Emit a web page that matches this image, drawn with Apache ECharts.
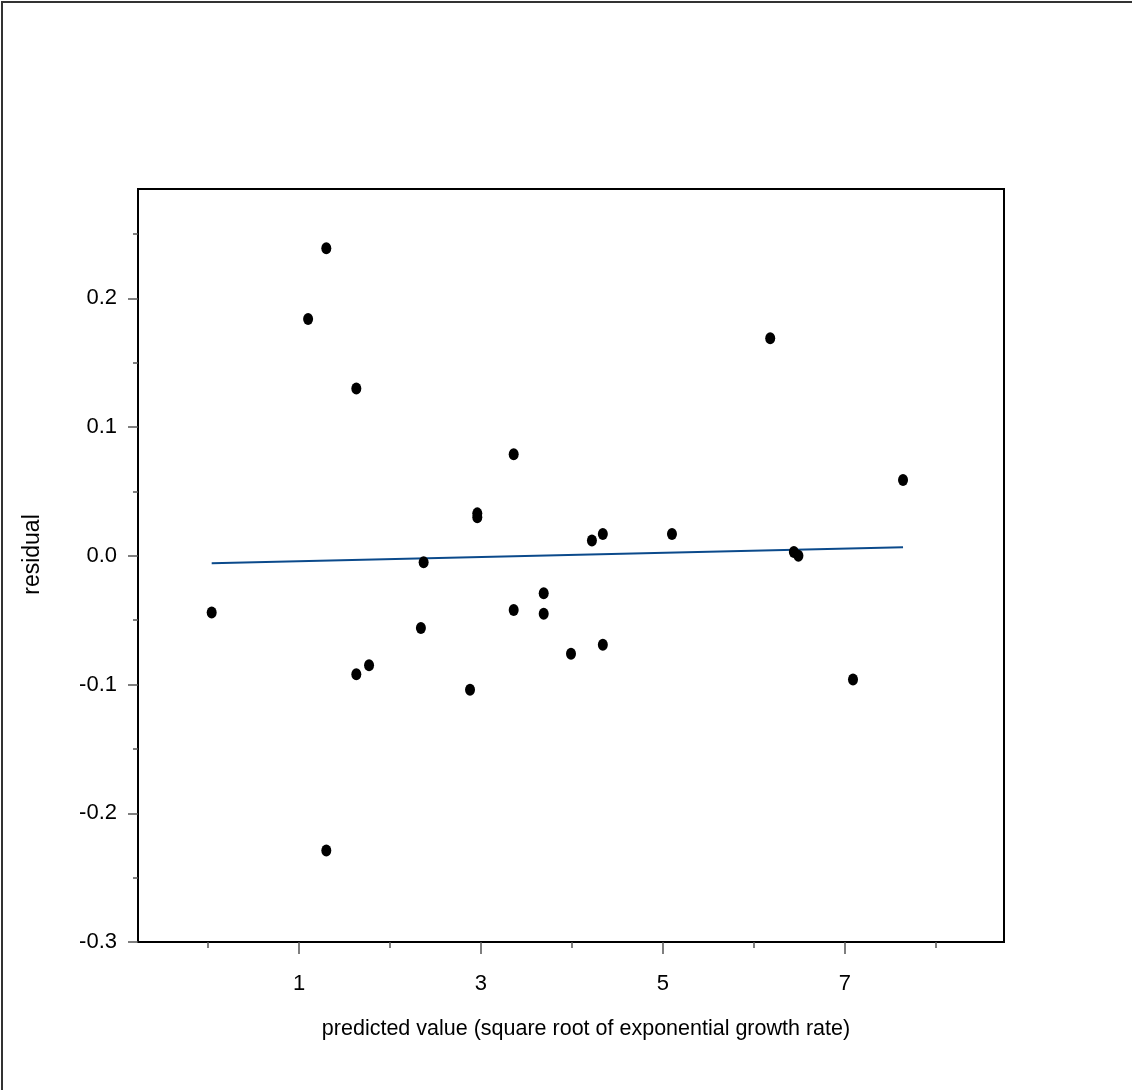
<!DOCTYPE html>
<html>
<head>
<meta charset="utf-8">
<script src="https://cdn.jsdelivr.net/npm/echarts@6/dist/echarts.min.js"></script>
<style>
html,body{margin:0;padding:0;background:#fff;}
#chart{width:1132px;height:1090px;}
</style>
</head>
<body>
<div id="chart"></div>
<script>
// Data
const predicted = [0.04, 1.10, 1.30, 1.30, 1.63, 1.63, 1.77, 2.34, 2.37, 2.88, 2.96, 2.96, 3.36, 3.36, 3.69, 3.69, 3.99, 4.22, 4.34, 4.34, 5.10, 6.18, 6.44, 6.49, 7.09, 7.64];
const residual  = [-0.044, 0.184, 0.239, -0.229, 0.130, -0.092, -0.085, -0.056, -0.005, -0.104, 0.033, 0.030, 0.079, -0.042, -0.029, -0.045, -0.076, 0.012, 0.017, -0.069, 0.017, 0.169, 0.003, 0.000, -0.096, 0.059];
const fitX = [0.04, 7.64];
const fitY = [-0.0058, 0.0066];
const xMajorTicks = [1, 3, 5, 7];
const xMinorTicks = [0, 2, 4, 6, 8];
const yMajorTicks = [-0.3, -0.2, -0.1, 0.0, 0.1, 0.2];
const yMinorTicks = [-0.25, -0.15, -0.05, 0.05, 0.15, 0.25];
const xTitle = 'predicted value (square root of exponential growth rate)';
const yTitle = 'residual';

const points = predicted.map((x, i) => [x, residual[i]]);
const fitLine = fitX.map((x, i) => [x, fitY[i]]);

const font = 'Liberation Sans, Arial, sans-serif';
const chart = echarts.init(document.getElementById('chart'), null, {renderer: 'canvas'});
const xMin = -0.77, xMax = 8.75, yMin = -0.3, yMax = 0.285;

chart.setOption({
  animation: false,
  backgroundColor: '#fff',
  grid: {left: 138, top: 189, right: 128, bottom: 148, show: true, borderColor: '#000', borderWidth: 2, backgroundColor: 'transparent'},
  xAxis: [
    {
      type: 'value', min: xMin, max: xMax, position: 'bottom',
      name: xTitle, nameLocation: 'middle', nameGap: 76,
      nameTextStyle: {fontFamily: font, fontSize: 21.5, color: '#000', letterSpacing: -0.3, padding: [0, 0, 0, 30]},
      axisLine: {show: true, onZero: false, lineStyle: {color: '#000', width: 2}},
      axisTick: {show: true, customValues: xMajorTicks, length: 12, lineStyle: {color: '#555', width: 1.5}},
      axisLabel: {show: true, customValues: xMajorTicks, margin: 31, fontFamily: font, fontSize: 22, color: '#000'},
      splitLine: {show: false}
    },
    {
      type: 'value', min: xMin, max: xMax, position: 'bottom', gridIndex: 0,
      axisLine: {show: false, onZero: false},
      axisTick: {show: true, customValues: xMinorTicks, length: 6, lineStyle: {color: '#555', width: 1.5}},
      axisLabel: {show: false},
      splitLine: {show: false}
    }
  ],
  yAxis: [
    {
      type: 'value', min: yMin, max: yMax, position: 'left',
      name: yTitle, nameLocation: 'middle', nameGap: 94, nameRotate: 90,
      nameTextStyle: {fontFamily: font, fontSize: 23, color: '#000', padding: [0, 0, 0, 22]},
      axisLine: {show: true, onZero: false, lineStyle: {color: '#000', width: 2}},
      axisTick: {show: true, customValues: yMajorTicks, length: 10, lineStyle: {color: '#555', width: 1.5}},
      axisLabel: {show: true, customValues: yMajorTicks, margin: 21, fontFamily: font, fontSize: 22, color: '#000',
        formatter: v => v.toFixed(1)},
      splitLine: {show: false}
    },
    {
      type: 'value', min: yMin, max: yMax, position: 'left',
      axisLine: {show: false, onZero: false},
      axisTick: {show: true, customValues: yMinorTicks, length: 5, lineStyle: {color: '#555', width: 1.5}},
      axisLabel: {show: false},
      splitLine: {show: false}
    }
  ],
  series: [
    {
      type: 'line', data: fitLine, xAxisIndex: 0, yAxisIndex: 0,
      showSymbol: false, symbol: 'none',
      lineStyle: {color: '#0b4a8b', width: 2}, z: 2, silent: true
    },
    {
      type: 'scatter', data: points, xAxisIndex: 0, yAxisIndex: 0,
      symbol: 'circle', symbolSize: [10, 12],
      itemStyle: {color: '#000', opacity: 1}, z: 3, silent: true
    }
  ],
  graphic: [
    {type: 'line', shape: {x1: 2, y1: 1, x2: 2, y2: 1090}, style: {stroke: '#333', lineWidth: 2}},
    {type: 'line', shape: {x1: 1, y1: 2, x2: 1132, y2: 2}, style: {stroke: '#333', lineWidth: 2}}
  ]
});
</script>
</body>
</html>
